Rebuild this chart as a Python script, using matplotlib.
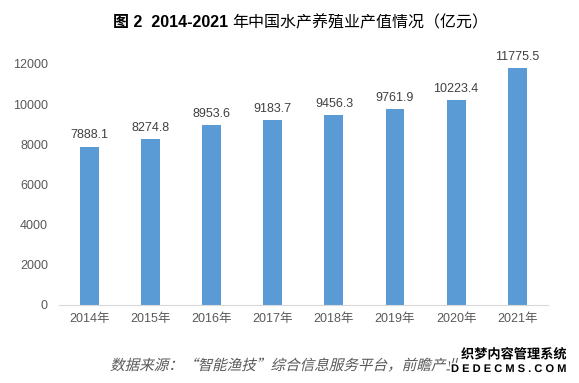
import matplotlib
matplotlib.use('Agg')
import matplotlib.pyplot as plt
from matplotlib.textpath import TextPath
from matplotlib.patches import PathPatch
from matplotlib.font_manager import FontProperties
from matplotlib.transforms import Affine2D
import matplotlib.patheffects as pe

plt.rcParams['font.family'] = ['Liberation Sans', 'Noto Sans CJK SC', 'DejaVu Sans']

years = ['2014年', '2015年', '2016年', '2017年', '2018年', '2019年', '2020年', '2021年']
values = [7888.1, 8274.8, 8953.6, 9183.7, 9456.3, 9761.9, 10223.4, 11775.5]
yticks = [0, 2000, 4000, 6000, 8000, 10000, 12000]

W, H = 579, 383
fig = plt.figure(figsize=(W / 100, H / 100), dpi=100)
ax = fig.add_axes([0.102, 0.204, 0.844, 0.629])

x = range(len(years))
ax.bar(x, values, width=0.31, color='#5B9BD5')
for xi, v in zip(x, values):
    ax.text(xi, v + 250, f'{v:.1f}', ha='center', va='bottom', fontsize=9, color='#404040')

ax.set_xlim(-0.5, len(years) - 0.5)
ax.set_ylim(0, 12000)
ax.set_xticks(list(x))
ax.set_xticklabels(years, fontsize=9, color='#595959')
ax.set_yticks(yticks)
ax.set_yticklabels([str(t) for t in yticks], fontsize=9, color='#595959')
ax.tick_params(length=0, pad=8)
ax.tick_params(axis='x', pad=6)
for s in ['top', 'right', 'left']:
    ax.spines[s].set_visible(False)
ax.spines['bottom'].set_color('#D9D9D9')

# title: bold figure number, normal-weight Chinese
t1 = fig.text(113 / W, 1 - 23 / H, '图 2  2014-2021 ', ha='left', va='center',
              fontsize=11.5, fontweight='bold', color='black')
r = fig.canvas.get_renderer()
bb = t1.get_window_extent(r)
fig.text(bb.x1 / W, 1 - 23 / H, '年中国水产养殖业产值情况（亿元）', ha='left', va='center',
         fontsize=11.5, color='black', family=['Noto Sans CJK SC'])

# source line, slanted (CJK font has no italic, so shear the glyph path)
src = '数据来源：“智能渔技”综合信息服务平台，前瞻产业研究院'
tp = TextPath((0, 0), src, size=10.5, prop=FontProperties(family='Noto Sans CJK SC'))
tr = Affine2D().skew_deg(14, 0).scale(100 / 72).translate(110, H - 370)
fig.add_artist(PathPatch(tr.transform_path(tp), facecolor='#595959', edgecolor='none',
                         transform=None))

# watermark overlaid on the bottom right corner
stroke = [pe.withStroke(linewidth=2, foreground='white')]
fig.text(567 / W, 1 - 355 / H, '织梦内容管理系统', ha='right', va='center', fontsize=9.5,
         color='black', fontweight='bold', path_effects=stroke,
         bbox=dict(facecolor='white', edgecolor='none', pad=2))
fig.text(567 / W, 1 - 369 / H, 'D E D E C M S . C O M', ha='right', va='center', fontsize=8,
         color='black', fontweight='bold', path_effects=stroke,
         bbox=dict(facecolor='white', edgecolor='none', pad=1))

fig.savefig('out.png', dpi=100)
